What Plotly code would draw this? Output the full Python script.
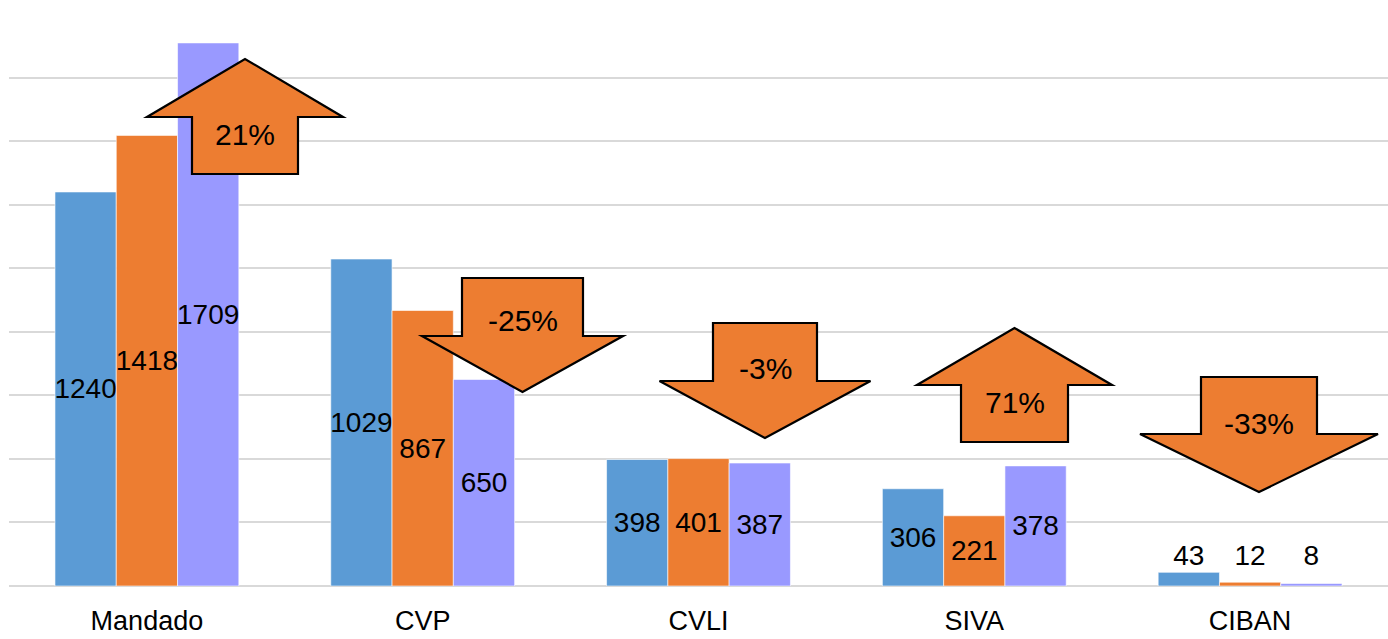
import plotly.graph_objects as go

# Categories and yearly series
categories = ["Mandado", "CVP", "CVLI", "SIVA", "CIBAN"]
serie_a = [1240, 1029, 398, 306, 43]
serie_b = [1418, 867, 401, 221, 12]
serie_c = [1709, 650, 387, 378, 8]

colors = ["#5B9BD5", "#ED7D31", "#9999FF"]

W, H = 1388, 639
ML, MR, MT, MB = 9, 0, 14, 53
BARGAP = 1 / 3

fig = go.Figure()
x_idx = list(range(len(categories)))
series = [serie_a, serie_b, serie_c]
n = len(series)
bar_w = (1 - BARGAP) / n

label_font = dict(family="Liberation Sans, Arial", size=28, color="#000000")

for k, vals in enumerate(series):
    inside = [v >= 100 for v in vals]
    fig.add_trace(go.Bar(
        x=x_idx, y=vals,
        marker=dict(color=colors[k], line=dict(color="rgba(255,255,255,0.6)", width=1)),
        text=[str(v) if ins else "" for v, ins in zip(vals, inside)],
        textposition="inside", insidetextanchor="middle", textangle=0,
        constraintext="none", cliponaxis=False,
        textfont=label_font,
        showlegend=False, hoverinfo="skip",
    ))

# Labels for the short bars, all set above the tallest bar of their group
for k, vals in enumerate(series):
    small_x, small_y, small_t = [], [], []
    for i, v in enumerate(vals):
        if v < 100:
            group_top = max(s[i] for s in series)
            small_x.append(i + (k - (n - 1) / 2) * bar_w)
            small_y.append(group_top)
            small_t.append(str(v))
    fig.add_trace(go.Scatter(
        x=small_x, y=small_y, text=small_t, mode="text",
        textposition="top center",
        textfont=label_font,
        showlegend=False, hoverinfo="skip", cliponaxis=False,
    ))

# Percent change between the last two series
changes = [round((c / b - 1) * 100) for b, c in zip(serie_b, serie_c)]

# Arrow callouts in pixel geometry: centre x, shaft half width, head half width,
# shaft end y, head base y, tip y, label y
arrow_geom = [
    (245, 53, 98, 174, 117, 59, 134),
    (522.5, 60.5, 100.5, 278, 336, 392, 320),
    (765, 52, 105.5, 323, 381, 438, 368),
    (1014.5, 53.5, 97.5, 442, 385, 328, 403),
    (1259, 58, 119, 377, 434, 492, 423),
]

pw = W - ML - MR
ph = H - MT - MB


def px(xp):
    return (xp - ML) / pw


def py(yp):
    return (H - MB - yp) / ph


for pct, (cx, sh, hh, ys, yb, yt, ylab) in zip(changes, arrow_geom):
    pts = [
        (cx - sh, ys), (cx - sh, yb), (cx - hh, yb), (cx, yt),
        (cx + hh, yb), (cx + sh, yb), (cx + sh, ys),
    ]
    path = "M " + " L ".join(f"{px(a):.5f},{py(b):.5f}" for a, b in pts) + " Z"
    fig.add_shape(type="path", path=path, xref="paper", yref="paper",
                  fillcolor="#ED7D31", line=dict(color="#000000", width=2.2),
                  layer="above")
    fig.add_annotation(x=px(cx), y=py(ylab), xref="paper", yref="paper",
                       xanchor="center", yanchor="middle",
                       text=f"{pct}%", showarrow=False,
                       font=dict(family="Liberation Sans Narrow, Arial Narrow, Liberation Sans",
                                 size=30, color="#000000"))

fig.update_layout(
    width=W, height=H,
    margin=dict(l=ML, r=MR, t=MT, b=MB, autoexpand=False),
    paper_bgcolor="#FFFFFF", plot_bgcolor="#FFFFFF",
    barmode="group", bargap=BARGAP, bargroupgap=0,
    showlegend=False,
    xaxis=dict(
        tickmode="array", tickvals=x_idx, ticktext=categories,
        range=[-0.5, len(categories) - 0.5],
        showgrid=False, zeroline=False, showline=False, ticks="",
        ticklabelstandoff=16,
        tickfont=dict(family="Liberation Sans, Arial", size=27, color="#000000"),
        fixedrange=True,
    ),
    yaxis=dict(
        range=[0, 1800], dtick=200, tick0=0,
        showgrid=True, gridcolor="#D9D9D9", gridwidth=1.5,
        zeroline=True, zerolinecolor="#D9D9D9", zerolinewidth=1.5,
        showticklabels=False, ticks="", showline=False, fixedrange=True,
    ),
)

fig.write_html("out.html")
